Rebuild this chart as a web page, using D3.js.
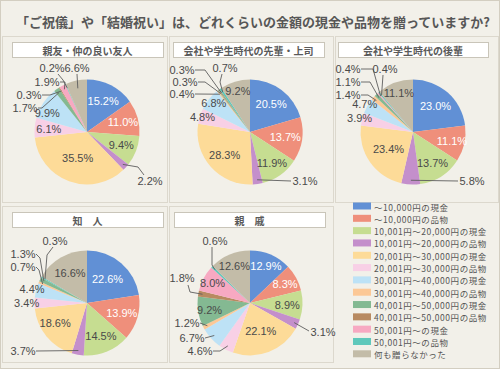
<!DOCTYPE html>
<html>
<head>
<meta charset="utf-8">
<script src="https://cdn.jsdelivr.net/npm/d3@7"></script>
<style>
  html, body { margin: 0; padding: 0; background: #f2f0e9; }
  svg { display: block; font-family: "Noto Sans CJK JP", "Noto Sans", sans-serif; }
  .pct { font-family: "Liberation Sans", Arial, sans-serif; font-size: 11px; }
</style>
</head>
<body>
<svg id="chart" width="500" height="369"></svg>
<script>
const categories = [
  "～10,000円の現金", "～10,000円の品物",
  "10,001円～20,000円の現金", "10,001円～20,000円の品物",
  "20,001円～30,000円の現金", "20,001円～30,000円の品物",
  "30,001円～40,000円の現金", "30,001円～40,000円の品物",
  "40,001円～50,000円の現金", "40,001円～50,000円の品物",
  "50,001円～の現金", "50,001円～の品物",
  "何も贈らなかった"
];
const colors = ["#6190d5", "#ef8f7b", "#c6dd91", "#c48fcb", "#fddb98", "#f8d0e6",
  "#bde2f6", "#fcc896", "#84b992", "#b88a61", "#f7a9c2", "#5fc8bb", "#c3bca8"];

const panelTitles = ["親友・仲の良い友人", "会社や学生時代の先輩・上司", "会社や学生時代の後輩", "知　人", "親　戚"];

const friendValues = [15.2, 11.0, 9.4, 2.2, 35.5, 6.1, 9.9, 0, 1.7, 0.3, 1.9, 0.2, 6.6];
const seniorValues = [20.5, 13.7, 11.9, 3.1, 28.3, 4.8, 6.8, 0.4, 0.3, 0.3, 0, 0.7, 9.2];
const juniorValues = [23.0, 11.1, 13.7, 5.8, 23.4, 3.9, 4.7, 1.4, 1.1, 0, 0.4, 0.4, 11.1];
const acquaintanceValues = [22.6, 13.9, 14.5, 3.7, 18.6, 3.4, 4.4, 0.7, 1.3, 0, 0, 0.3, 16.6];
const relativeValues = [12.9, 8.3, 8.9, 3.1, 22.1, 4.6, 6.7, 1.2, 9.2, 1.8, 8.0, 0.6, 12.6];

const title = "「ご祝儀」や「結婚祝い」は、どれくらいの金額の現金や品物を贈っていますか?";

// layout: pie centres, label radius factors, outside labels with leader lines
const panels = [
  { values: friendValues, cx: 87, cy: 132, frame: [2, 36, 165, 166], box: [12, 42, 151, 15],
    rf: { 0: 0.67, 1: 0.71, 2: 0.7, 4: 0.52, 5: 0.73, 6: 0.84 }, da: { 6: -8 },
    out: {
      3: { at: [63, 49], line: [[57, 43], [51, 35]] },
      8: { at: [-62, -24], line: [[-49, -24], [-45, -24]] },
      9: { at: [-58, -37], line: [[-45, -37], [-37, -37]] },
      10: { at: [-40, -50], line: [[-27, -50], [-22, -50]] },
      11: { at: [-35, -64], line: [[-29, -58], [-24, -52]] },
      12: { at: [-10, -64], line: [[-10, -58]], er: 0.85 }
    } },
  { values: seniorValues, cx: 250, cy: 132, frame: [169, 36, 164, 166], box: [173, 42, 151, 15],
    rf: { 0: 0.67, 1: 0.68, 2: 0.72, 4: 0.65, 5: 0.95, 6: 0.88, 12: 0.81 },
    out: {
      3: { at: [55, 49], line: [[41, 49]] },
      7: { at: [-68, -38], line: [[-55, -38]] },
      8: { at: [-65, -50], line: [[-52, -50], [-45, -50]] },
      9: { at: [-68, -62], line: [[-55, -62], [-45, -62]] },
      11: { at: [-25, -64], line: [[-28, -58], [-30, -50]] }
    } },
  { values: juniorValues, cx: 413, cy: 132, frame: [335, 36, 163, 166], box: [338, 42, 150, 15],
    rf: { 0: 0.65, 1: 0.76, 2: 0.69, 4: 0.57, 5: 1.05, 6: 1.06, 12: 0.79 },
    out: {
      3: { at: [59, 49], line: [[45, 49]] },
      7: { at: [-65, -37], line: [[-52, -37], [-45, -37]] },
      8: { at: [-65, -50], line: [[-52, -50], [-43, -50]] },
      10: { at: [-65, -63], line: [[-52, -63], [-40, -63]] },
      11: { at: [-28, -63], line: [[-30, -57]] }
    } },
  { values: acquaintanceValues, cx: 87, cy: 303, frame: [2, 206, 165, 156], box: [12, 212, 151, 15],
    rf: { 0: 0.6, 1: 0.69, 2: 0.69, 4: 0.72, 5: 1.15, 6: 1.08, 12: 0.65 }, da: { 4: 7 },
    out: {
      3: { at: [-64, 48], line: [[-51, 48]] },
      7: { at: [-64, -36], line: [[-51, -36], [-48, -33]] },
      8: { at: [-64, -49], line: [[-51, -49], [-47, -45]] },
      11: { at: [-32, -62], line: [[-34, -56], [-40, -48]] }
    } },
  { values: relativeValues, cx: 250, cy: 303, frame: [169, 206, 164, 156], box: [174, 212, 151, 15],
    rf: { 0: 0.77, 1: 0.76, 2: 0.71, 4: 0.58, 8: 0.78, 10: 0.81, 12: 0.77 },
    out: {
      3: { at: [73, 29], line: [[59, 28]] },
      5: { at: [-50, 48], line: [[-37, 48], [-30, 48]] },
      6: { at: [-58, 35], line: [[-45, 35]] },
      7: { at: [-63, 20], line: [[-50, 20]] },
      9: { at: [-68, -25], line: [[-62, -18], [-60, -11]] },
      11: { at: [-35, -62], line: [[-38, -56], [-38, -38]] }
    } }
];

const R = 52.5;
const svg = d3.select("#chart");
const color = d3.scaleOrdinal().domain(d3.range(categories.length)).range(colors);
const pie = d3.pie().sort(null).value(d => d);
const arc = d3.arc().innerRadius(0).outerRadius(R);

svg.append("rect").attr("x", 0.5).attr("y", 0.5).attr("width", 499).attr("height", 368)
  .attr("fill", "#f2f0e9").attr("stroke", "#d3cec1");

svg.append("text")
  .attr("x", 253).attr("y", 21)
  .attr("text-anchor", "middle").attr("dominant-baseline", "central")
  .attr("font-size", "13px").attr("font-weight", "bold").attr("fill", "#575757")
  .text(title);

const fmt = v => v.toFixed(1) + "%";

panels.forEach((p, k) => {
  svg.append("rect")
    .attr("x", p.frame[0] + 0.5).attr("y", p.frame[1] + 0.5)
    .attr("width", p.frame[2]).attr("height", p.frame[3])
    .attr("fill", "none").attr("stroke", "#dcd8cd");

  svg.append("rect")
    .attr("x", p.box[0] + 0.5).attr("y", p.box[1] + 0.5)
    .attr("width", p.box[2]).attr("height", p.box[3])
    .attr("fill", "#fff").attr("stroke", "#c9c5b9");
  svg.append("text")
    .attr("x", p.box[0] + p.box[2] / 2).attr("y", p.box[1] + p.box[3] / 2 + 1)
    .attr("text-anchor", "middle").attr("dominant-baseline", "central")
    .attr("font-size", "10px").attr("font-weight", "bold").attr("fill", "#5a5a5a")
    .text(panelTitles[k]);

  const g = svg.append("g").attr("transform", `translate(${p.cx},${p.cy})`);
  const arcs = pie(p.values).map((d, i) => Object.assign(d, { idx: i }));

  g.selectAll("path.slice")
    .data(arcs.filter(d => d.value > 0))
    .join("path")
    .attr("class", "slice")
    .attr("d", arc)
    .attr("fill", d => color(d.idx));

  const mid = d => (d.startAngle + d.endAngle) / 2;

  arcs.forEach(d => {
    if (d.value <= 0) return;
    const o = p.out[d.idx];
    const white = d.idx < 2;
    if (o) {
      const a = mid(d), er = (o.er || 0.92) * R;
      const pts = o.line.concat([[Math.sin(a) * er, -Math.cos(a) * er]]);
      g.append("path")
        .attr("d", d3.line()(pts))
        .attr("fill", "none").attr("stroke", "#5e5e5e").attr("stroke-width", 0.9);
      g.append("text")
        .attr("class", "pct")
        .attr("x", o.at[0]).attr("y", o.at[1])
        .attr("text-anchor", "middle").attr("dominant-baseline", "central")
        .attr("fill", "#4a4a4a")
        .text(fmt(d.value));
    } else {
      const a = mid(d) + ((p.da && p.da[d.idx]) || 0) * Math.PI / 180;
      const rr = ((p.rf && p.rf[d.idx]) || 0.7) * R;
      g.append("text")
        .attr("class", "pct")
        .attr("x", Math.sin(a) * rr).attr("y", -Math.cos(a) * rr)
        .attr("text-anchor", "middle").attr("dominant-baseline", "central")
        .attr("fill", white ? "#fff" : "#4a4a4a")
        .text(fmt(d.value));
    }
  });
});

// legend
const legendY = d3.scaleLinear().domain([0, categories.length - 1]).range([206, 353.8]);
const legend = svg.append("g");
categories.forEach((c, i) => {
  legend.append("rect")
    .attr("x", 353).attr("y", legendY(i) - 3.5)
    .attr("width", 18).attr("height", 7)
    .attr("fill", color(i));
  legend.append("text")
    .attr("x", 374).attr("y", legendY(i) + 0.5)
    .attr("dominant-baseline", "central")
    .attr("font-size", "8.5px").attr("letter-spacing", "0.55px").attr("fill", "#555")
    .text(c);
});
</script>
</body>
</html>
